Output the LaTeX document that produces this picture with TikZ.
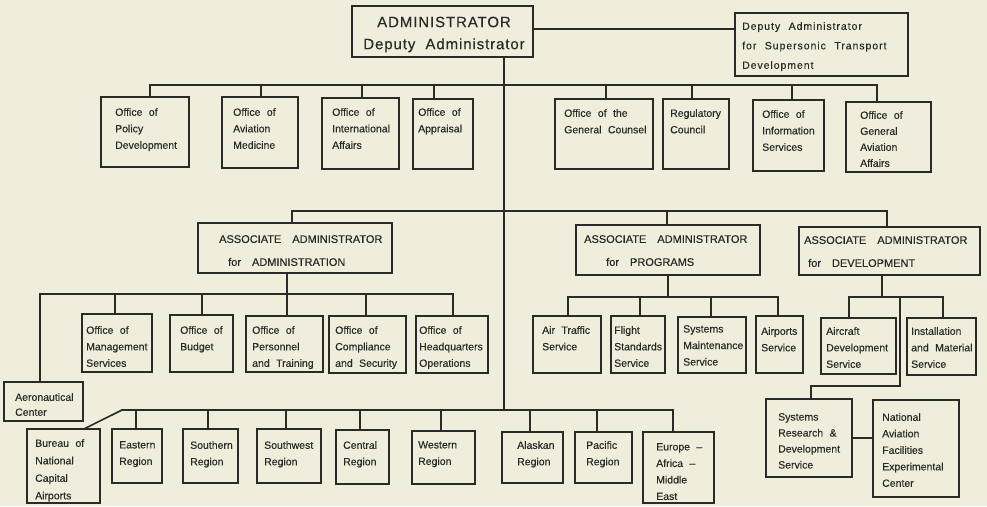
\documentclass[tikz,border=0pt]{standalone}
\usepackage{fontspec}
\setmainfont{Liberation Sans}[WordSpace=2.2,FakeBold=0.35]
\newfontfamily\headfont{Liberation Sans}[LetterSpace=6,WordSpace=2,FakeBold=0.35]
\newfontfamily\capsfont{Liberation Sans}[WordSpace=3.6,FakeBold=0.45]
\newfontfamily\widefont{Liberation Sans}[LetterSpace=9,WordSpace=2.2,FakeBold=0.35]
\usetikzlibrary{fit,calc}
\definecolor{paper}{RGB}{239,238,220}
\definecolor{ink}{RGB}{42,42,38}

\tikzset{
  box/.style={draw=ink, line width=1.2pt, inner sep=0pt},
  txt/.style={anchor=north west, inner sep=0pt, align=left, text=ink,
              font=\fontsize{10.5}{16.5}\selectfont},
  captxt/.style={txt, font=\capsfont\fontsize{11}{23}\selectfont},
  wire/.style={draw=ink, line width=1.6pt, line cap=rect},
}

\begin{document}
\begin{tikzpicture}[x=1pt,y=-1pt]
\fill[paper] (0,0) rectangle (987,506);
\useasboundingbox (0,0) rectangle (987,506);

% ---- top level
\node[box, fit={(352,6) (533,57)}] (admin) {};
\node[txt, anchor=north, align=center, font=\headfont\fontsize{15}{22}\selectfont]
  (admin-t) at (444,16.5) {ADMINISTRATOR\\Deputy Administrator};
\node[box, fit={(735,13) (908,76)}] (sst) {};
\node[txt, font=\widefont\fontsize{10.5}{19.5}\selectfont] (sst-t) at (742,22)
  {Deputy Administrator\\for Supersonic Transport\\Development};

% ---- staff offices
\node[box, fit={(101,97) (189,167)}] (pol) {};
\node[txt] (pol-t) at (115,108) {Office of\\Policy\\Development};
\node[box, fit={(222,97) (298,168)}] (avm) {};
\node[txt] (avm-t) at (233,108) {Office of\\Aviation\\Medicine};
\node[box, fit={(322,98) (399,169)}] (intl) {};
\node[txt] (intl-t) at (332,108) {Office of\\International\\Affairs};
\node[box, fit={(413,99) (473,169)}] (apr) {};
\node[txt] (apr-t) at (418,108) {Office of\\Appraisal};
\node[box, fit={(555,99) (653,169)}] (gc) {};
\node[txt] (gc-t) at (564,109) {Office of the\\General Counsel};
\node[box, fit={(663,99) (729,169)}] (reg) {};
\node[txt] (reg-t) at (670,109) {Regulatory\\Council};
\node[box, fit={(753,100) (824,171)}] (info) {};
\node[txt] (info-t) at (762,110) {Office of\\Information\\Services};
\node[box, fit={(846,102) (931,172)}] (gaa) {};
\node[txt, font=\fontsize{10.5}{16}\selectfont] (gaa-t) at (860,111)
  {Office of\\General\\Aviation\\Affairs};

% ---- associate administrators
\node[box, fit={(198,223) (392,273)}] (asa) {};
\node[captxt] (asa-t) at (219,235) {ASSOCIATE ADMINISTRATOR\\\hspace*{9pt}for ADMINISTRATION};
\node[box, fit={(576,225) (760,275)}] (prg) {};
\node[captxt] (prg-t) at (584,235) {ASSOCIATE ADMINISTRATOR\\\hspace*{22pt}for PROGRAMS};
\node[box, fit={(799,227) (980,275)}] (dev) {};
\node[captxt] (dev-t) at (804,236) {ASSOCIATE ADMINISTRATOR\\\hspace*{4pt}for DEVELOPMENT};

% ---- administration units
\node[box, fit={(4,382) (83,421)}] (aero) {};
\node[txt, font=\fontsize{10.5}{15}\selectfont] (aero-t) at (15,393) {Aeronautical\\Center};
\node[box, fit={(82,314) (152,372)}] (mgmt) {};
\node[txt] (mgmt-t) at (86,326) {Office of\\Management\\Services};
\node[box, fit={(170,315) (233,372)}] (bud) {};
\node[txt] (bud-t) at (180,326) {Office of\\Budget};
\node[box, fit={(246,316) (323,372)}] (pers) {};
\node[txt] (pers-t) at (252,326) {Office of\\Personnel\\and Training};
\node[box, fit={(329,316) (406,373)}] (comp) {};
\node[txt] (comp-t) at (335,326) {Office of\\Compliance\\and Security};
\node[box, fit={(416,316) (488,373)}] (hq) {};
\node[txt] (hq-t) at (419,326) {Office of\\Headquarters\\Operations};

% ---- regions
\node[box, fit={(27,429) (100,503)}] (bur) {};
\node[txt, font=\fontsize{10.5}{17.5}\selectfont] (bur-t) at (35,439)
  {Bureau of\\National\\Capital\\Airports};
\node[box, fit={(112,429) (162,483)}] (east) {};
\node[txt] (east-t) at (119,441) {Eastern\\Region};
\node[box, fit={(183,429) (238,483)}] (south) {};
\node[txt] (south-t) at (190,441) {Southern\\Region};
\node[box, fit={(257,429) (321,483)}] (sw) {};
\node[txt] (sw-t) at (264,441) {Southwest\\Region};
\node[box, fit={(336,430) (389,484)}] (cen) {};
\node[txt] (cen-t) at (343,441) {Central\\Region};
\node[box, fit={(412,431) (475,484)}] (west) {};
\node[txt] (west-t) at (418,441) {Western\\Region};
\node[box, fit={(502,432) (563,483)}] (alas) {};
\node[txt] (alas-t) at (517,441) {Alaskan\\Region};
\node[box, fit={(575,432) (632,483)}] (pac) {};
\node[txt] (pac-t) at (586,441) {Pacific\\Region};
\node[box, fit={(643,432) (714,503)}] (eur) {};
\node[txt] (eur-t) at (656,443) {Europe –\\Africa –\\Middle\\East};

% ---- program services
\node[box, fit={(533,316) (601,373)}] (atc) {};
\node[txt] (atc-t) at (542,326) {Air Traffic\\Service};
\node[box, fit={(611,316) (665,373)}] (fsd) {};
\node[txt] (fsd-t) at (614,326) {Flight\\Standards\\Service};
\node[box, fit={(678,317) (746,373)}] (sysm) {};
\node[txt] (sysm-t) at (683,325) {Systems\\Maintenance\\Service};
\node[box, fit={(756,316) (803,373)}] (airp) {};
\node[txt] (airp-t) at (761,327) {Airports\\Service};

% ---- development services
\node[box, fit={(821,318) (896,374)}] (acd) {};
\node[txt] (acd-t) at (826,327) {Aircraft\\Development\\Service};
\node[box, fit={(907,318) (976,375)}] (ins) {};
\node[txt] (ins-t) at (911,327) {Installation\\and Material\\Service};
\node[box, fit={(766,399) (852,477)}] (srd) {};
\node[txt, font=\fontsize{10.5}{16}\selectfont] (srd-t) at (778,413)
  {Systems\\Research \&\\Development\\Service};
\node[box, fit={(873,400) (959,497)}] (nafec) {};
\node[txt, font=\fontsize{10.5}{16.5}\selectfont] (nafec-t) at (882,413)
  {National\\Aviation\\Facilities\\Experimental\\Center};

% ================= connectors
% main trunk and the supersonic deputy
\coordinate (trunk) at (504,410);
\draw[wire] (admin.south -| trunk) -- (trunk);
\coordinate (sst-j) at (533,29);
\draw[wire] (sst-j) -- (sst-j -| sst.west);

% staff office bus
\foreach \x/\n in {150/pol,261/avm,362/intl,434/apr,606/gc,692/reg,792/info,877/gaa}{
  \coordinate (j-\n) at (\x,85);
  \draw[wire] (j-\n) -- (j-\n |- \n.north);
}
\draw[wire] (j-pol) -- (j-gaa);

% associate administrator bus
\foreach \x/\n in {292/asa,667/prg,887/dev}{
  \coordinate (j-\n) at (\x,211);
  \draw[wire] (j-\n) -- (j-\n |- \n.north);
}
\draw[wire] (j-asa) -- (j-dev);

% administration bus
\coordinate (s-pers) at (287,294);
\draw[wire] (asa.south -| s-pers) -- (s-pers |- pers.north);
\foreach \x/\n in {40/aero,115/mgmt,202/bud,366/comp,453/hq}{
  \coordinate (j-\n) at (\x,294);
  \draw[wire] (j-\n) -- (j-\n |- \n.north);
}
\draw[wire] (j-aero) -- (j-hq);

% regional bus
\coordinate (r-bur) at (122,410);
\draw[wire] (r-bur) -- ($(bur.north west)!0.79!(bur.north east)$);
\foreach \x/\n in {136/east,208/south,286/sw,360/cen,441/west,530/alas,597/pac,673/eur}{
  \coordinate (j-\n) at (\x,410);
  \draw[wire] (j-\n) -- (j-\n |- \n.north);
}
\draw[wire] (r-bur) -- (j-eur);

% programs bus
\coordinate (p-hub) at (668,297);
\draw[wire] (prg.south -| p-hub) -- (p-hub);
\foreach \x/\n in {568/atc,640/fsd,711/sysm,778/airp}{
  \coordinate (j-\n) at (\x,297);
  \draw[wire] (j-\n) -- (j-\n |- \n.north);
}
\draw[wire] (j-atc) -- (j-airp);

% development bus
\coordinate (d-hub) at (882,297);
\draw[wire] (dev.south -| d-hub) -- (d-hub);
\foreach \x/\n in {849/acd,943/ins}{
  \coordinate (j-\n) at (\x,297);
  \draw[wire] (j-\n) -- (j-\n |- \n.north);
}
\draw[wire] (j-acd) -- (j-ins);
\coordinate (d-low) at (900,297);
\coordinate (d-bend) at (811,386);
\draw[wire] (d-low) |- (d-bend) -- (d-bend |- srd.north);
\draw[wire] (srd) -- (srd -| nafec.west);
\end{tikzpicture}
\end{document}
